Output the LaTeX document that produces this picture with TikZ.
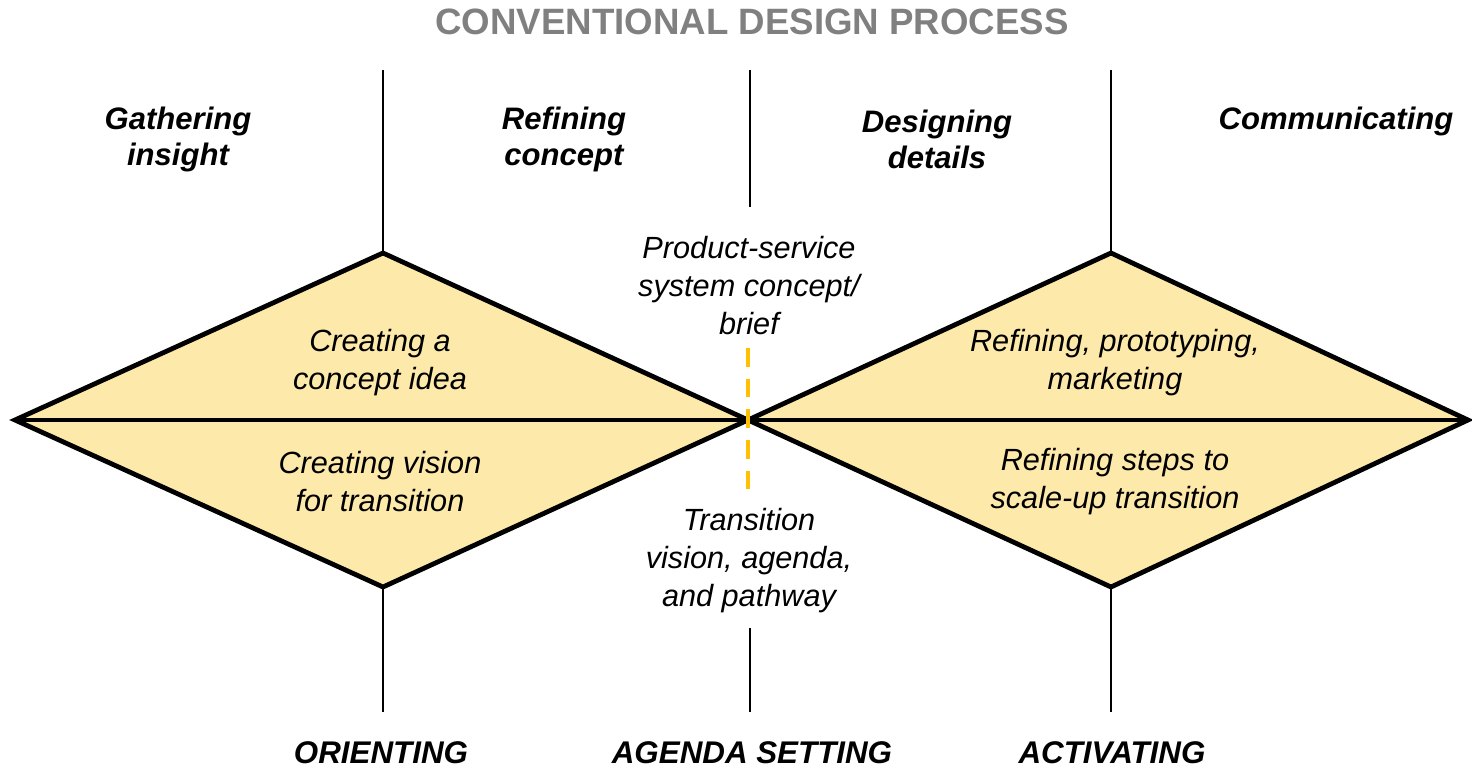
\documentclass[tikz,border=0pt]{standalone}
\usepackage{fontspec}
\setmainfont{Liberation Sans}
\usepackage{xcolor}
\definecolor{diafill}{HTML}{FDEAAA}
\definecolor{dashgold}{HTML}{FFC000}
\definecolor{titlegray}{HTML}{808080}
\usetikzlibrary{positioning}

\begin{document}
\begin{tikzpicture}[x=0.75pt,y=-0.75pt,
  every node/.style={align=center,inner sep=0pt},
  phase/.style={font=\fontsize{23.3}{27}\selectfont\bfseries\itshape},
  stage/.style={font=\fontsize{23.5}{27}\selectfont\bfseries\itshape},
  inner/.style={font=\fontsize{23}{28.5}\selectfont\itshape},
  diamond line/.style={line width=3.6pt,line join=miter,fill=diafill},
  divider/.style={line width=1.1pt}]
\useasboundingbox (0,0) rectangle (1472,770);

% diamond corners
\coordinate (lw) at (15,420);
\coordinate (ln) at (383,253);
\coordinate (ls) at (383,587);
\coordinate (mid) at (748,420);
\coordinate (rn) at (1111,253);
\coordinate (rs) at (1111,587);
\coordinate (re) at (1468,420);

\draw[diamond line] (lw) -- (ln) -- (mid) -- (ls) -- cycle;
\draw[diamond line] (mid) -- (rn) -- (re) -- (rs) -- cycle;
\draw[line width=3.6pt] (lw) -- (re);

% dividers
\coordinate (lt) at (383,70);
\coordinate (lb) at (383,712);
\coordinate (mt) at (750,70);
\coordinate (mu) at (750,207);
\coordinate (md) at (750,628);
\coordinate (mb) at (750,712);
\coordinate (rt) at (1111,70);
\coordinate (rb) at (1111,712);
\draw[divider] (lt) -- (ln) (ls) -- (lb)
               (mt) -- (mu) (md) -- (mb)
               (rt) -- (rn) (rs) -- (rb);

\coordinate (dtop) at (748,348);
\coordinate (dbot) at (748,494);
\draw[dashgold,line width=3pt,dash pattern=on 14pt off 9pt] (dtop) -- (dbot);

\node[font=\fontsize{27.5}{32}\selectfont\bfseries,text=titlegray] (title) at (752,22) {CONVENTIONAL DESIGN PROCESS};

\node[phase] (gather) at (178,139) {Gathering\\insight};
\node[phase] (refine) at (564,139) {Refining\\concept};
\node[phase] (design) at (937,139) {Designing\\details};
\node[phase] (comm) at (1336,121) {Communicating};

\node[inner] (idea) at (380,363) {Creating a\\concept idea};
\node[inner] (vision) at (380,482) {Creating vision\\for transition};
\node[inner] (proto) at (1115,363) {Refining, prototyping,\\marketing};
\node[inner] (scale) at (1115,482) {Refining steps to\\scale-up transition};
\node[inner] (brief) at (749,286) {Product-service\\system concept/\\brief};
\node[inner] (path) at (749,561) {Transition\\vision, agenda,\\and pathway};

\node[stage] (orient) at (381,753) {ORIENTING};
\node[stage] (agenda) at (752,753) {AGENDA SETTING};
\node[stage] (activ) at (1112,753) {ACTIVATING};

\end{tikzpicture}
\end{document}
